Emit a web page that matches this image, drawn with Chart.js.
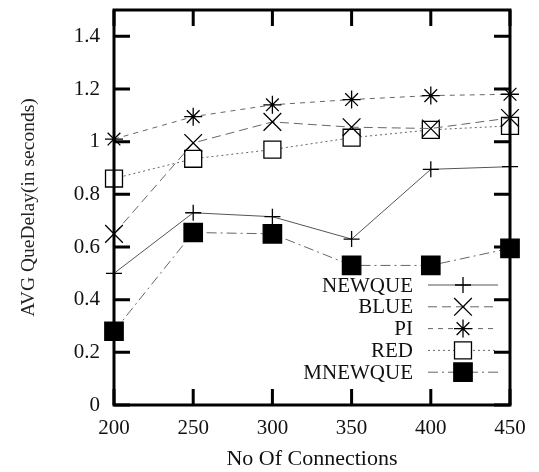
<!DOCTYPE html>
<html>
<head>
<meta charset="utf-8">
<script src="https://cdn.jsdelivr.net/npm/chart.js@4"></script>
<style>
  html, body { margin: 0; padding: 0; background: #fff; }
  #wrap { width: 539px; height: 472px; }
</style>
</head>
<body>
<div id="wrap"><canvas id="chart-delay"></canvas></div>
<script>
const connections = [200, 250, 300, 350, 400, 450];
const yTicks = [0, 0.2, 0.4, 0.6, 0.8, 1, 1.2, 1.4];

const newque = [0.50, 0.73, 0.715, 0.63, 0.895, 0.905];
const blue = [0.65, 0.995, 1.075, 1.055, 1.05, 1.09];
const pi = [1.01, 1.095, 1.14, 1.16, 1.175, 1.18];
const red = [0.86, 0.935, 0.97, 1.015, 1.045, 1.06];
const mnewque = [0.28, 0.655, 0.65, 0.53, 0.53, 0.595];

const FONT = "'Liberation Serif', 'DejaVu Serif', serif";

function toPoints(values) {
  return connections.map((x, i) => ({ x, y: values[i] }));
}

function makeSet(label, values, opts) {
  return Object.assign({
    label,
    data: toPoints(values),
    borderColor: "#666",
    borderWidth: 1,
    pointBorderColor: "#000",
    pointBackgroundColor: "#fff",
    pointBorderWidth: 1.3,
    tension: 0,
    fill: false,
    clip: false
  }, opts);
}

const datasets = [
  makeSet("NEWQUE", newque, { pointStyle: "cross", pointRadius: 8, borderColor: "#555" }),
  makeSet("BLUE", blue, { pointStyle: "crossRot", pointRadius: 12.5, borderDash: [9, 5] }),
  makeSet("PI", pi, { pointStyle: "star", pointRadius: 9, borderDash: [5, 5] }),
  makeSet("RED", red, { pointStyle: "rect", pointRadius: 12, borderDash: [2, 3] }),
  makeSet("MNEWQUE", mnewque, { pointStyle: "rect", pointRadius: 13, pointBackgroundColor: "#000", borderDash: [10, 4, 2, 4] })
];

// gnuplot-like frame with inward mirrored ticks
const framePlugin = {
  id: "frame",
  afterDatasetsDraw(chart) {
    const { ctx, chartArea: a, scales } = chart;
    const len = 16;
    ctx.save();
    ctx.strokeStyle = "#000";
    ctx.lineWidth = 3;
    ctx.beginPath();
    yTicks.forEach(v => {
      const y = scales.y.getPixelForValue(v);
      ctx.moveTo(a.left, y); ctx.lineTo(a.left + len, y);
      ctx.moveTo(a.right, y); ctx.lineTo(a.right - len, y);
    });
    connections.forEach(v => {
      const x = scales.x.getPixelForValue(v);
      ctx.moveTo(x, a.bottom); ctx.lineTo(x, a.bottom - len);
      ctx.moveTo(x, a.top); ctx.lineTo(x, a.top + len);
    });
    ctx.stroke();
    ctx.strokeRect(a.left, a.top, a.right - a.left, a.bottom - a.top);
    ctx.restore();
  }
};

// legend inside the plot: label on the left, line sample + marker on the right
const keyPlugin = {
  id: "key",
  afterDatasetsDraw(chart) {
    const { ctx } = chart;
    const textRight = 413, lineStart = 428, lineEnd = 498, top = 285, step = 21.8;
    ctx.save();
    ctx.font = "21px " + FONT;
    ctx.textAlign = "right";
    ctx.textBaseline = "middle";
    chart.data.datasets.forEach((ds, i) => {
      const y = top + i * step;
      ctx.fillStyle = "#111";
      ctx.fillText(ds.label, textRight, y + 1);
      ctx.strokeStyle = ds.borderColor;
      ctx.lineWidth = ds.borderWidth;
      ctx.setLineDash(ds.borderDash || []);
      ctx.beginPath();
      ctx.moveTo(lineStart, y); ctx.lineTo(lineEnd, y);
      ctx.stroke();
      ctx.setLineDash([]);
      ctx.strokeStyle = ds.pointBorderColor;
      ctx.fillStyle = ds.pointBackgroundColor;
      ctx.lineWidth = ds.pointBorderWidth;
      Chart.helpers.drawPoint(ctx, {
        pointStyle: ds.pointStyle,
        radius: ds.pointRadius,
        rotation: 0,
        borderWidth: ds.pointBorderWidth
      }, 463, y);
    });
    ctx.restore();
  }
};

new Chart(document.getElementById("chart-delay").getContext("2d"), {
  type: "line",
  data: { datasets },
  options: {
    responsive: true,
    maintainAspectRatio: false,
    animation: false,
    layout: { autoPadding: false, padding: { left: 0, top: 10, right: 29, bottom: 0 } },
    plugins: { legend: { display: false }, tooltip: { enabled: false } },
    scales: {
      x: {
        type: "linear",
        min: 200,
        max: 450,
        afterBuildTicks: scale => { scale.ticks = connections.map(v => ({ value: v })); },
        afterFit: scale => { scale.height = 67; scale.paddingLeft = 0; scale.paddingRight = 0; },
        grid: { display: false, drawTicks: false },
        border: { display: false },
        ticks: { color: "#111", padding: 11, font: { family: FONT, size: 21 } },
        title: { display: true, text: "No Of Connections", color: "#111", padding: { top: 0, bottom: 0 }, font: { family: FONT, size: 22 } }
      },
      y: {
        min: 0,
        max: 1.5,
        afterBuildTicks: scale => { scale.ticks = yTicks.map(v => ({ value: v })); },
        afterFit: scale => { scale.width = 114; scale.paddingTop = 0; scale.paddingBottom = 0; },
        grid: { display: false, drawTicks: false },
        border: { display: false },
        ticks: {
          color: "#111",
          padding: 14,
          font: { family: FONT, size: 21 },
          callback: value => String(Number(value.toFixed(1)))
        },
        title: { display: true, text: "AVG QueDelay(in seconds)", color: "#222", padding: { top: 17, bottom: 0 }, font: { family: FONT, size: 19.5 } }
      }
    }
  },
  plugins: [framePlugin, keyPlugin]
});
</script>
</body>
</html>
